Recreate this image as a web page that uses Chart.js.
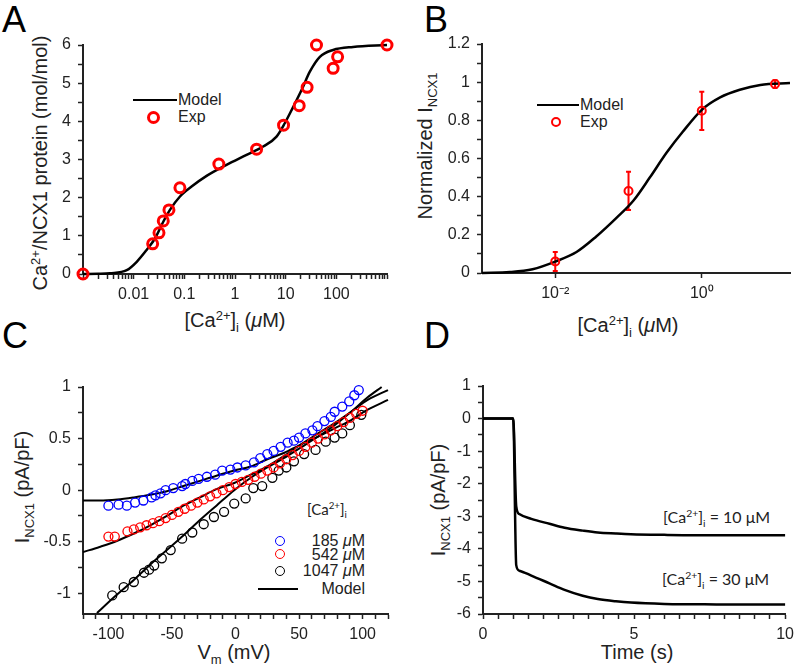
<!DOCTYPE html>
<html>
<head>
<meta charset="utf-8">
<script src="https://cdn.jsdelivr.net/npm/chart.js@4.4.1/dist/chart.umd.min.js"></script>
<style>
  body { margin: 0; background: #fff; }
  #fig { position: relative; width: 800px; height: 668px; overflow: hidden;
         font-family: 'Liberation Sans', Arial, sans-serif; color: #222; }
  canvas { position: absolute; z-index: 2; }
  .t { position: absolute; white-space: nowrap; line-height: 1; z-index: 1; }
  .c { transform: translate(-50%, -50%); }
  .l { transform: translate(0, -50%); }
  .rt { transform: translate(-100%, -50%); }
  .r { transform: translate(-50%, -50%) rotate(-90deg); }
  .letter { font-size: 36px; color: #000; }
  .ttl { font-size: 20px; }
  .lg { font-size: 16px; }
  .gill { font-family: Lato, 'Liberation Sans', sans-serif; font-size: 15px; }
  sup { font-size: 0.65em; vertical-align: 0.55em; line-height: 0; }
  sub { font-size: 0.65em; vertical-align: -0.35em; line-height: 0; }
  .ln { position: absolute; height: 0; border-top: 2.5px solid #000; z-index: 1; }
  .dot { position: absolute; box-sizing: border-box; border-radius: 50%; z-index: 1; }
</style>
</head>
<body>
<div id="fig">
  <canvas id="cA" width="400" height="334" style="left:0;top:0"></canvas>
  <canvas id="cB" width="400" height="334" style="left:400px;top:0"></canvas>
  <canvas id="cC" width="400" height="334" style="left:0;top:334px"></canvas>
  <canvas id="cD" width="400" height="334" style="left:400px;top:334px"></canvas>

  <!-- panel letters -->
  <div class="t letter" style="left:2px;top:2px">A</div>
  <div class="t letter" style="left:424px;top:2px">B</div>
  <div class="t letter" style="left:2px;top:318px">C</div>
  <div class="t letter" style="left:424px;top:318px">D</div>

  <!-- axis titles -->
  <div class="t ttl r" style="left:40px;top:163px">Ca<sup>2+</sup>/NCX1 protein (mol/mol)</div>
  <div class="t ttl c" style="left:235px;top:320px">[Ca<sup>2+</sup>]<sub>i</sub> (<i>μ</i>M)</div>
  <div class="t ttl r" style="left:425px;top:146px">Normalized I<sub>NCX1</sub></div>
  <div class="t ttl c" style="left:628px;top:325px">[Ca<sup>2+</sup>]<sub>i</sub> (<i>μ</i>M)</div>
  <div class="t ttl r" style="left:22px;top:487px">I<sub>NCX1</sub> (pA/pF)</div>
  <div class="t ttl c" style="left:234px;top:652px">V<sub>m</sub> (mV)</div>
  <div class="t ttl r" style="left:438px;top:500px">I<sub>NCX1</sub> (pA/pF)</div>
  <div class="t ttl c" style="left:637px;top:652px">Time (s)</div>

  <!-- legend A -->
  <div class="ln" style="left:133px;top:99px;width:44px"></div>
  <div class="t lg l" style="left:178px;top:100px">Model</div>
  <div class="dot" style="left:147px;top:111px;width:13px;height:13px;border:3px solid #f00"></div>
  <div class="t lg l" style="left:178px;top:117px">Exp</div>

  <!-- legend B -->
  <div class="ln" style="left:537px;top:104px;width:42px"></div>
  <div class="t lg l" style="left:580px;top:105px">Model</div>
  <div class="dot" style="left:551px;top:117px;width:10px;height:10px;border:2px solid #f00"></div>
  <div class="t lg l" style="left:580px;top:122px">Exp</div>

  <!-- legend C -->
  <div class="t gill l" style="left:307px;top:509px">[Ca<sup>2+</sup>]<sub>i</sub></div>
  <div class="dot" style="left:275px;top:536px;width:10px;height:10px;border:1.3px solid #00f"></div>
  <div class="t lg rt" style="left:365px;top:541px">185 <i>μ</i>M</div>
  <div class="dot" style="left:275px;top:549px;width:10px;height:10px;border:1.3px solid #f00"></div>
  <div class="t lg rt" style="left:365px;top:555px">542 <i>μ</i>M</div>
  <div class="dot" style="left:275px;top:566px;width:10px;height:10px;border:1.3px solid #000"></div>
  <div class="t lg rt" style="left:365px;top:571px">1047 <i>μ</i>M</div>
  <div class="ln" style="left:258px;top:588px;width:40px"></div>
  <div class="t lg rt" style="left:365px;top:589px">Model</div>

  <!-- annotations D -->
  <div class="t gill l" style="left:663px;top:517px;font-size:16px">[Ca<sup>2+</sup>]<sub>i</sub> = 10 μM</div>
  <div class="t gill l" style="left:662px;top:579px;font-size:16px">[Ca<sup>2+</sup>]<sub>i</sub> = 30 μM</div>
</div>

<script>
// ---- Panel A: Ca2+ binding to NCX1 ----
const aExpX = [0.001, 0.0237, 0.0316, 0.0384, 0.0497, 0.0818, 0.48, 2.67, 9.08, 18.5, 26.5, 40.6, 86.5, 106, 1000];
const aExpY = [0, 0.79, 1.08, 1.39, 1.68, 2.26, 2.88, 3.27, 3.9, 4.41, 4.89, 6.0, 5.39, 5.69, 6.0];
const aModelX = [0.001, 0.002, 0.0034, 0.0073, 0.0115, 0.018, 0.0263, 0.0384, 0.052, 0.082, 0.139, 0.275, 0.68, 1.69, 3.6, 6.6, 9.6, 14.1, 20.6, 30, 47.3, 86.5, 214, 1000];
const aModelY = [0, 0.005, 0.02, 0.1, 0.32, 0.63, 0.93, 1.37, 1.68, 2.03, 2.29, 2.57, 2.86, 3.12, 3.34, 3.6, 3.95, 4.38, 4.82, 5.3, 5.69, 5.87, 5.95, 6.0];
const aXLabelVals = [0.01, 0.1, 1, 10, 100];
const aXLabels = ['0.01', '0.1', '1', '10', '100'];
const aYLabelVals = [0, 1, 2, 3, 4, 5, 6];
const aYLabels = ['0', '1', '2', '3', '4', '5', '6'];

// ---- Panel B: normalized INCX1 vs Ca ----
const bExpX = [0.01, 0.1, 1, 10];
const bExpY = [0.06, 0.43, 0.85, 0.99];
const bExpErr = [0.05, 0.1, 0.1, 0.02];
const bModelX = [0.001, 0.0024, 0.0049, 0.01, 0.0195, 0.036, 0.069, 0.117, 0.195, 0.33, 0.55, 1.0, 1.78, 3.3, 6.3, 16];
const bModelY = [0, 0.005, 0.02, 0.06, 0.11, 0.19, 0.29, 0.38, 0.5, 0.63, 0.74, 0.855, 0.92, 0.96, 0.985, 0.995];
const bXLabelVals = [0.01, 1];
const bXLabels = ['10\u207B\u00B2', '10\u2070'];
const bYLabelVals = [0, 0.2, 0.4, 0.6, 0.8, 1, 1.2];
const bYLabels = ['0', '0.2', '0.4', '0.6', '0.8', '1', '1.2'];

// ---- Panel C: I-V relations ----
const c185V = [-100, -92, -85.5, -79, -72.5, -66, -63, -59, -55, -49, -42, -39.5, -34, -29, -22.5, -16, -10.5, -4, 1.5, 8,
               14.5, 19.5, 25, 30, 35.5, 41, 46, 50, 55, 60.5, 64.5, 70, 75, 78, 84, 89.5, 93.5, 97];
const c185 = [-0.15, -0.14, -0.15, -0.12, -0.10, -0.07, -0.05, -0.03, 0.0, 0.02, 0.04, 0.06, 0.09, 0.11, 0.13, 0.15, 0.19, 0.20, 0.22, 0.24,
              0.27, 0.31, 0.35, 0.38, 0.42, 0.46, 0.48, 0.51, 0.55, 0.58, 0.62, 0.67, 0.71, 0.76, 0.81, 0.86, 0.92, 0.97];
const c542V = [-100, -95, -85, -80, -75, -70, -65, -60, -55, -50, -45, -40, -35, -30, -25, -20, -15, -10, -5,
               0, 5, 10, 15, 20, 25, 30, 35, 40, 45, 50, 55, 60, 65, 70, 75, 80, 85, 90, 95, 100];
const c542 = [-0.45, -0.45, -0.40, -0.38, -0.36, -0.34, -0.32, -0.30, -0.27, -0.24, -0.21, -0.18, -0.15, -0.12, -0.09, -0.06, -0.03, 0.0, 0.03,
              0.06, 0.08, 0.10, 0.13, 0.16, 0.19, 0.22, 0.26, 0.30, 0.34, 0.38, 0.42, 0.46, 0.50, 0.54, 0.58, 0.62, 0.66, 0.70, 0.74, 0.77];
const c1047V = [-97, -88, -80, -72, -68, -64, -58, -51, -42, -34, -25, -17, -9, -1, 8, 14, 21, 29, 34, 40, 46, 54, 63, 71, 78, 84, 90, 99];
const c1047 = [-1.02, -0.94, -0.89, -0.80, -0.77, -0.73, -0.66, -0.58, -0.47, -0.41, -0.33, -0.26, -0.21, -0.13, -0.08, 0.02, 0.04, 0.12, 0.19, 0.22, 0.28, 0.35, 0.39, 0.47, 0.51, 0.55, 0.63, 0.73];
const cModelV = [-120, -107, -93, -80, -67, -54, -41, -28, -15, -1, 12, 25, 38, 51, 65, 78, 91, 104, 120];
const cModel185 = [-0.1, -0.1, -0.09, -0.07, -0.045, -0.01, 0.04, 0.09, 0.14, 0.19, 0.23, 0.3, 0.36, 0.44, 0.52, 0.6, 0.68, 0.78, 0.875];
const cModel542 = [-0.6, -0.55, -0.49, -0.42, -0.34, -0.25, -0.15, -0.07, 0.01, 0.07, 0.15, 0.23, 0.33, 0.44, 0.55, 0.65, 0.76, 0.875, 0.97];
const cModel1047V = [-109, -95, -80, -67, -54, -41, -28, -15, -1, 12, 25, 38, 51, 65, 78, 91, 104, 115];
const cModel1047 = [-1.19, -1.03, -0.87, -0.72, -0.58, -0.44, -0.29, -0.15, 0.0, 0.12, 0.22, 0.31, 0.41, 0.52, 0.63, 0.76, 0.9, 1.0];
const cXLabelVals = [-100, -50, 0, 50, 100];
const cXLabels = ['-100', '-50', '0', '50', '100'];
const cYLabelVals = [1, 0.5, 0, -0.5, -1];
const cYLabels = ['1', '0.5', '0', '-0.5', '-1'];

// ---- Panel D: time course ----
const dTime = [0, 1.0, 1.1, 1.2, 1.6, 2.2, 2.7, 3.3, 3.8, 4.4, 4.9, 6.0, 7.0, 8.0, 10];
const d10 = [0, 0, -2.7, -2.93, -3.08, -3.23, -3.35, -3.44, -3.5, -3.53, -3.55, -3.57, -3.58, -3.58, -3.58];
const d30 = [0, 0, -4.5, -4.67, -4.82, -5.06, -5.26, -5.44, -5.54, -5.61, -5.65, -5.69, -5.7, -5.71, -5.71];
const dXLabelVals = [0, 5, 10];
const dXLabels = ['0', '5', '10'];
const dYLabelVals = [1, 0, -1, -2, -3, -4, -5, -6];
const dYLabels = ['1', '0', '-1', '-2', '-3', '-4', '-5', '-6'];

const INK = '#222';

const pts = (xs, ys) => xs.map((x, i) => ({ x: x, y: ys[i] }));

// tick positions (labelled + unlabelled minor ticks)
function logTicks(lo, hi) {
  const out = [];
  for (let e = lo; e < hi; e++) {
    for (let m = 1; m < 10; m++) out.push(m * Math.pow(10, e));
  }
  out.push(Math.pow(10, hi));
  return out;
}
function linTicks(lo, hi, step) {
  const out = [];
  const n = Math.round((hi - lo) / step);
  for (let i = 0; i <= n; i++) out.push(+(lo + i * step).toFixed(6));
  return out;
}

function scale(type, min, max, tickVals, labelVals, labels, fit, isX, pad) {
  return {
    type: type, min: min, max: max,
    afterBuildTicks: s => { s.ticks = tickVals.map(v => ({ value: v })); },
    afterFit: s => { if (isX) s.height = fit; else s.width = fit; },
    ticks: {
      autoSkip: false, maxRotation: 0, minRotation: 0, color: INK, padding: pad,
      font: { family: "'Liberation Sans', Arial, sans-serif", size: 16 },
      callback: v => {
        const i = labelVals.findIndex(l => Math.abs(l - v) < 1e-9 + 1e-6 * Math.abs(l));
        return i >= 0 ? labels[i] : '';
      }
    },
    grid: { drawOnChartArea: false, drawTicks: true, tickLength: 5, tickColor: INK, tickWidth: 1.5 },
    border: { color: INK, width: 2 }
  };
}

function baseOptions(padding, xScale, yScale) {
  return {
    responsive: false, animation: false, events: [],
    layout: { padding: padding },
    plugins: { legend: { display: false }, tooltip: { enabled: false } },
    scales: { x: xScale, y: yScale }
  };
}

function modelLine(data, width) {
  return { data: data, showLine: true, borderColor: '#000', borderWidth: width, pointRadius: 0,
           cubicInterpolationMode: 'monotone', clip: false, order: 5 };
}
function rings(data, color, r, w) {
  return { data: data, showLine: false, borderColor: color, backgroundColor: 'rgba(0,0,0,0)',
           pointRadius: r, pointBorderWidth: w, borderWidth: w, clip: false, order: 1 };
}

// A
new Chart(document.getElementById('cA'), {
  type: 'scatter',
  data: { datasets: [
    modelLine(pts(aModelX, aModelY), 2.5),
    rings(pts(aExpX, aExpY), '#ff0000', 5, 3)
  ] },
  options: baseOptions({ left: 0, top: 45, right: 13, bottom: 0 },
    scale('logarithmic', 0.001, 1000, logTicks(-3, 3), aXLabelVals, aXLabels, 60, true, 6),
    scale('linear', 0, 6, linTicks(0, 6, 0.5), aYLabelVals, aYLabels, 83, false, 7))
});

// B with error bars drawn through the chart scales
const errorBars = {
  id: 'errorBars',
  beforeDatasetsDraw(chart) {
    const { ctx, scales: { x, y } } = chart;
    ctx.save();
    ctx.strokeStyle = '#ff0000';
    ctx.lineWidth = 2;
    bExpX.forEach((v, i) => {
      const px = x.getPixelForValue(v);
      const top = y.getPixelForValue(bExpY[i] + bExpErr[i]);
      const bot = y.getPixelForValue(bExpY[i] - bExpErr[i]);
      ctx.beginPath();
      ctx.moveTo(px, top); ctx.lineTo(px, bot);
      ctx.moveTo(px - 2.5, top); ctx.lineTo(px + 2.5, top);
      ctx.moveTo(px - 2.5, bot); ctx.lineTo(px + 2.5, bot);
      ctx.stroke();
    });
    ctx.restore();
  }
};
new Chart(document.getElementById('cB'), {
  type: 'scatter',
  data: { datasets: [
    modelLine(pts(bModelX, bModelY), 2.5),
    rings(pts(bExpX, bExpY), '#ff0000', 4, 2)
  ] },
  options: baseOptions({ left: 0, top: 44, right: 10, bottom: 0 },
    scale('logarithmic', 0.001, 16, bXLabelVals, bXLabelVals, bXLabels, 61, true, 6),
    scale('linear', 0, 1.2, linTicks(0, 1.2, 0.1), bYLabelVals, bYLabels, 82, false, 7)),
  plugins: [errorBars]
});

// C
new Chart(document.getElementById('cC'), {
  type: 'scatter',
  data: { datasets: [
    modelLine(pts(cModelV, cModel185), 2),
    modelLine(pts(cModelV, cModel542), 2),
    modelLine(pts(cModel1047V, cModel1047), 2),
    rings(pts(c185V, c185), '#0000ff', 4.5, 1.3),
    rings(pts(c542V, c542), '#ff0000', 4.5, 1.3),
    rings(pts(c1047V, c1047), '#000000', 4.5, 1.3)
  ] },
  options: baseOptions({ left: 0, top: 53, right: 12, bottom: 0 },
    scale('linear', -120, 120, linTicks(-120, 120, 10), cXLabelVals, cXLabels, 54, true, 6),
    scale('linear', -1.2, 1, linTicks(-1, 1, 0.25), cYLabelVals, cYLabels, 83, false, 7))
});

// D (y tick labels drawn on their own layer above the curves)
const dYScale = scale('linear', -6, 1, linTicks(-6, 1, 0.5), dYLabelVals, dYLabels, 83, false, 7);
dYScale.ticks.z = 1;
new Chart(document.getElementById('cD'), {
  type: 'scatter',
  data: { datasets: [
    modelLine(pts(dTime, d10), 2.5),
    modelLine(pts(dTime, d30), 2.5)
  ] },
  options: baseOptions({ left: 0, top: 52, right: 11, bottom: 0 },
    scale('linear', 0, 10, linTicks(0, 10, 0.5), dXLabelVals, dXLabels, 54, true, 6),
    dYScale)
});
</script>
</body>
</html>
